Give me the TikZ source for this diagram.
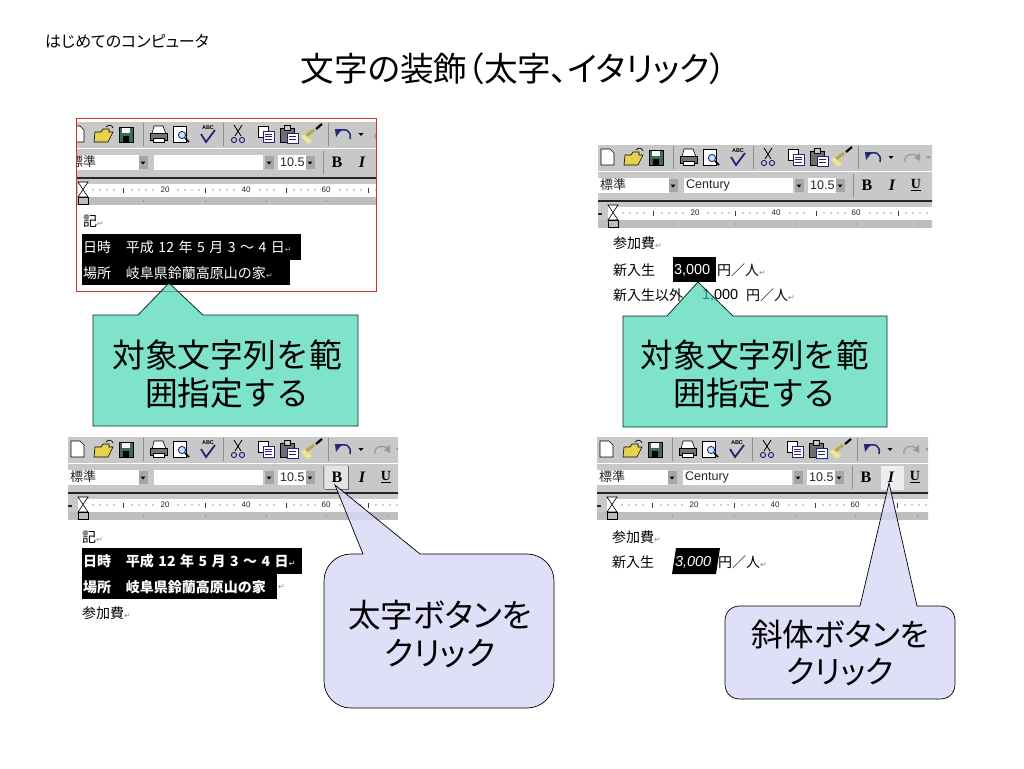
\documentclass[tikz,border=0pt]{standalone}
\usepackage{fontspec}
\setmainfont{Noto Sans CJK JP}
\newfontfamily\pf{Noto Sans CJK JP}[RawFeature=+palt]
\newfontfamily\lsans{Liberation Sans}
\newfontfamily\lserif{Liberation Serif}
\newfontfamily\dejavu{DejaVu Sans}
\definecolor{tbgray}{HTML}{C8C8C8}
\definecolor{rulergray}{HTML}{BEBEBE}
\definecolor{teal}{HTML}{3AD4AF}
\definecolor{lav}{HTML}{D8D8F6}
\definecolor{folderY}{HTML}{E6D24E}
\definecolor{saveG}{HTML}{3F6B55}
\definecolor{navy}{HTML}{24247A}
\definecolor{sepgray}{HTML}{8E8E8E}
\tikzset{
  txt/.style={inner sep=0pt,outer sep=0pt,font=\fontsize{14}{14}\selectfont,anchor=west},
  sel/.style={fill=black,draw=none},
  tiptxt/.style={inner sep=0pt,outer sep=0pt,align=center,text=black},
  calloutteal/.style={draw=black!80!teal,line width=.8pt,fill=teal,fill opacity=.65},
  calloutlav/.style={draw=black,line width=.7pt,fill=lav,fill opacity=.8},
  iconline/.style={draw=black,line width=.6pt},
  sepline/.style={draw=sepgray,line width=.8pt},
  rulertxt/.style={inner sep=0pt,font=\lsans\fontsize{8}{8}\selectfont,text=black!85},
  tbtxt/.style={inner sep=0pt,anchor=west,font=\lsans\fontsize{12.5}{12.5}\selectfont,text=black!85},
  fmt/.style={inner sep=0pt,font=\lserif\bfseries\fontsize{16}{16}\selectfont}
}
\newcommand{\ret}{{\dejavu\fontsize{8}{8}\selectfont\color{black!45}↵}}
\newcommand{\retw}{{\dejavu\fontsize{8}{8}\selectfont\color{white!70!black}↵}}
\newcommand{\gp}{\hspace{4.5pt}}
% small combo drop-down button
\newcommand{\dropbtn}[1]{%
  \fill[black!35] (#1-4.5,34) rectangle (#1+4.5,47);
  \fill[black] (#1-2.5,39.5) -- (#1+2.5,39.5) -- (#1,42.5) -- cycle;}
\newcommand{\toolicons}[1]{%
  % new document
  \draw[iconline,fill=white] (3,4) -- (12,4) -- (16,8) -- (16,20) -- (3,20) -- cycle;
  % folder
  \draw[iconline,fill=folderY] (27,10) -- (33,10) -- (35,7) -- (41,7) -- (41,10) -- (45,10) -- (40,20) -- (26,20) -- cycle;
  \draw[black,line width=.7pt] (38,5) .. controls (41,2) and (44,3) .. (45,6);
  % save
  \draw[iconline,fill=saveG] (51,5) rectangle (65,20);
  \fill[white!80!tbgray] (54,5.5) rectangle (62,11);
  \fill[black] (55,14) rectangle (61,20);
  % printer
  \draw[iconline,fill=white] (86,4) -- (95,4) -- (98,12) -- (84,12) -- cycle;
  \draw[iconline,fill=black!55] (82,11) rectangle (99,18);
  \draw[iconline,fill=white] (85,16) rectangle (96,20);
  % preview
  \draw[iconline,fill=white] (105,4) rectangle (118,20);
  \draw[navy,line width=.9pt,fill=cyan!25] (114,13) circle (3.6);
  \draw[black,line width=1.6pt] (117,16) -- (121,20);
  % spelling
  \node[inner sep=0pt,font=\lsans\bfseries\fontsize{5.5}{5.5}\selectfont] (#1abc) at (140,6) {ABC};
  \draw[navy,line width=1.8pt] (133,12) -- (138,20) -- (147,8);
  % scissors
  \draw[black,line width=.8pt] (166,3) -- (173,14) (174,3) -- (167,14);
  \draw[navy,line width=1pt] (166,18) circle (2.6) (174,18) circle (2.6);
  % copy
  \draw[iconline,fill=white] (190,4) rectangle (200,15);
  \draw[navy,line width=.7pt,fill=white] (195,9) rectangle (206,20);
  \draw[navy,line width=.6pt] (197,12) -- (204,12) (197,14.5) -- (204,14.5) (197,17) -- (204,17);
  % paste
  \draw[iconline,fill=black!45!tbgray] (212,6) rectangle (226,20);
  \draw[iconline,fill=tbgray] (216,3) rectangle (222,8);
  \draw[navy,line width=.7pt,fill=white] (219,11) rectangle (230,21);
  \draw[navy,line width=.6pt] (221,14) -- (228,14) (221,17) -- (228,17);
  % format painter
  \draw[line width=3pt,draw=folderY!80!black] (238,14) -- (246,8);
  \fill[white!40!folderY] (236,12) -- (244,19) -- (240,22) -- (233,15) -- cycle;
  \draw[black,line width=2.2pt] (248,7) -- (254,2);
  % undo
  \draw[navy,line width=1.5pt] (270,10) .. controls (276,5) and (284,8) .. (282,17);
  \fill[navy] (267,7) -- (274,7) -- (268,15) -- cycle;
  \fill[black] (290.5,11) -- (295.5,11) -- (293,14) -- cycle;
  % redo
  \draw[black!40,line width=1.2pt] (307,17) .. controls (306,9) and (313,8) .. (320,11);
  \fill[black!40] (322,8) -- (322,16) -- (316,13) -- cycle;
  \fill[black!40] (328,11) -- (333,11) -- (330.5,14) -- cycle;
}
% #1 id, #2 x0, #3 y0, #4 clip left, #5 clip right, #6 font name, #7 highlight code
\newcommand{\panel}[7]{%
\begin{scope}[shift={(#2,#3)}]
  \begin{scope}
  \clip (#4,0) rectangle (#5,83);
  \fill[tbgray] (0,0) rectangle (340,56);
  \toolicons{#1}
  \foreach \sx in {75,155,260} {\draw[sepline] (\sx,1) -- (\sx,24);}
  \draw[white,line width=.8pt] (0,26.5) -- (340,26.5);
  \fill[white] (0,33) rectangle (71,48);
  \fill[white] (86,33) rectangle (195,48);
  \fill[white] (210,33) rectangle (238,48);
  \dropbtn{75}\dropbtn{201}\dropbtn{242}
  \draw[sepline] (255,29) -- (255,52);
  #7
  \node[inner sep=0pt,anchor=west,font=\fontsize{13}{13}\selectfont,text=black!85] (#1style) at (2,40) {標準};
  \node[tbtxt] (#1font) at (88,40) {#6};
  \node[tbtxt] (#1size) at (212,40) {10.5};
  \node[fmt] (#1b) at (269,40) {B};
  \node[fmt,font=\lserif\bfseries\itshape\fontsize{16}{16}\selectfont] (#1i) at (294,40) {I};
  \node[fmt,font=\lserif\bfseries\fontsize{14}{14}\selectfont] (#1u) at (318,40) {\underline{U}};
  \fill[black!85] (0,55) rectangle (340,57);
  \fill[tbgray] (0,57) rectangle (340,62);
  \fill[white] (0,62) rectangle (340,75);
  \fill[rulergray] (0,75) rectangle (340,83);
  \fill[tbgray] (0,62) rectangle (10,75);
  \fill[black!85] (0,68) rectangle (4,70);
  \foreach \tx in {55,137,218,300} {\draw[black!75,line width=.6pt] (\tx,65.5) -- (\tx,71);}
  \foreach \dx in {25,32,39,46,64,71,78,85,110,117,124,131,145,152,159,166,192,199,206,226,233,240,247,272,279,286,293,308,315,322,329} {\fill[black!80] (\dx,68) circle (.6);}
  \foreach \kx in {75,137,198,258,320} {\fill[black!40] (\kx,77.5) rectangle (\kx+.8,79.5);}
  \node[rulertxt] (#1r20) at (97,68) {20};
  \node[rulertxt] (#1r40) at (178,68) {40};
  \node[rulertxt] (#1r60) at (258,68) {60};
  \draw[black,line width=.6pt,fill=white] (10,60) -- (20,60) -- (10,75) -- (20,75) -- cycle;
  \draw[black,line width=.6pt,fill=rulergray] (10,75) rectangle (20,82);
  \end{scope}
\end{scope}}
\begin{document}
\begin{tikzpicture}[x=1pt,y=-1pt]
\useasboundingbox (0,0) rectangle (1024,768);
\fill[white] (0,0) rectangle (1024,768);
\node[inner sep=0pt,anchor=west,font=\pf\fontsize{16}{16}\selectfont] (header) at (45,41) {はじめてのコンピュータ};
\node[inner sep=0pt,font=\pf\fontsize{33.6}{33.6}\selectfont] (title) at (513.5,69) {文字の装飾（太字、イタリック）};

% ---- panel A
\panel{pa}{68}{122}{9}{308}{}{}
\fill[sel] (82,234) rectangle (301,260);
\fill[sel] (82,260) rectangle (290,285);
\node[txt] (a1) at (83,221) {記\ret};
\node[txt,text=white] (a2) at (83,247) {日時\hspace{15pt}平成\gp 12\gp 年\gp 5\gp 月\gp 3\gp ～\gp 4\gp 日\retw};
\node[txt,text=white] (a3) at (83,273) {場所\hspace{15pt}岐阜県鈴蘭高原山の家\retw};
\draw[draw=red!75!black!80!white,line width=.9pt] (76.5,118.5) rectangle (376,291);
\draw[calloutteal] (138,315) -- (169,283) -- (203,315) -- (358,315) -- (358,426) -- (93,426) -- (93,315) -- cycle;
\node[tiptxt,font=\fontsize{32.8}{38}\selectfont] (ta) at (227,374) {対象文字列を範\\囲指定する};

% ---- panel B
\panel{pb}{598}{145}{0}{334}{Century}{}
\node[txt] (b1) at (613,243) {参加費\ret};
\fill[sel] (673,257) rectangle (716,282);
\node[txt] (b2) at (613,270) {新入生};
\node[txt,text=white,font=\lsans\fontsize{14.5}{14.5}\selectfont] (b3) at (674,270) {3,000};
\node[txt] (b4) at (717,270) {円／人\ret};
\node[txt] (b5) at (613,295) {新入生以外};
\node[txt,font=\lsans\fontsize{14.5}{14.5}\selectfont] (b6) at (702,295) {1,000};
\node[txt] (b7) at (746,295) {円／人\ret};
\draw[calloutteal] (667,316) -- (698,282) -- (733,316) -- (887,316) -- (887,427) -- (623,427) -- (623,316) -- cycle;
\node[tiptxt,font=\fontsize{32.6}{38}\selectfont] (tb) at (755,374) {対象文字列を範\\囲指定する};

% ---- panel C
\panel{pc}{68}{437}{0}{330}{}{\fill[white!50!tbgray] (257,29) rectangle (280,52); \draw[black!60,line width=.5pt] (257,52) -- (280,52) -- (280,29);}
\fill[sel] (82,548) rectangle (302,574);
\fill[sel] (82,574) rectangle (277,599);
\node[txt] (c1) at (82,537) {記\ret};
\node[txt,text=white,font=\bfseries\fontsize{14}{14}\selectfont] (c2) at (83,561) {日時\hspace{15pt}平成\gp 12\gp 年\gp 5\gp 月\gp 3\gp ～\gp 4\gp 日\retw};
\node[txt,text=white,font=\bfseries\fontsize{14}{14}\selectfont] (c3) at (83,587) {場所\hspace{15pt}岐阜県鈴蘭高原山の家};
\node[txt] (c3r) at (278,587) {\ret};
\node[txt] (c4) at (82,613) {参加費\ret};
\draw[calloutlav] (335,485) -- (420,554) -- (527,554) .. controls (542,554) and (554,566) .. (554,581) -- (554,681) .. controls (554,696) and (542,708) .. (527,708) -- (351,708) .. controls (336,708) and (324,696) .. (324,681) -- (324,581) .. controls (324,566) and (336,554) .. (351,554) -- (363,554) -- cycle;
\node[tiptxt,font=\pf\fontsize{32.5}{38}\selectfont] (tc) at (440,634) {太字ボタンを\\クリック};

% ---- panel D
\panel{pd}{597}{437}{0}{331}{Century}{\fill[white!70!tbgray] (284,29) rectangle (307,53);}
\node[txt] (d1) at (612,537) {参加費\ret};
\fill[sel] (676,548) -- (720,548) -- (716,574) -- (672,574) -- cycle;
\node[txt] (d2) at (612,562) {新入生};
\node[txt,text=white,font=\lsans\itshape\fontsize{14.5}{14.5}\selectfont] (d3) at (675,562) {3,000};
\node[txt] (d4) at (718,562) {円／人\ret};
\draw[calloutlav] (889,483) -- (917,606) -- (940,606) .. controls (949,606) and (955,612) .. (955,621) -- (955,684) .. controls (955,693) and (949,699) .. (940,699) -- (740,699) .. controls (731,699) and (725,693) .. (725,684) -- (725,621) .. controls (725,612) and (731,606) .. (740,606) -- (860,606) -- cycle;
\node[tiptxt,font=\pf\fontsize{31.5}{37}\selectfont] (td) at (840,653) {斜体ボタンを\\クリック};
\end{tikzpicture}
\end{document}
